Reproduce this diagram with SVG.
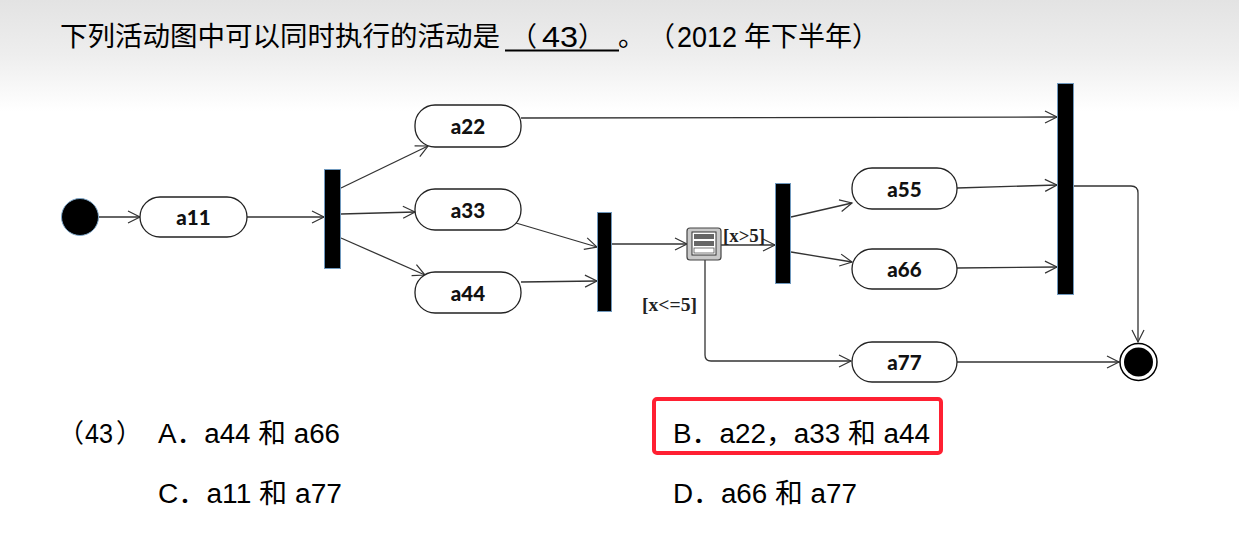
<svg xmlns="http://www.w3.org/2000/svg" width="1239" height="556" viewBox="0 0 1239 556">
<defs>
<linearGradient id="bg" x1="0" y1="0" x2="0" y2="1">
<stop offset="0" stop-color="#e3e3e3"/>
<stop offset="0.1" stop-color="#eeeeee"/>
<stop offset="0.2" stop-color="#ffffff"/>
<stop offset="1" stop-color="#ffffff"/>
</linearGradient>
<marker id="arr" markerUnits="userSpaceOnUse" markerWidth="14" markerHeight="14" refX="12" refY="6" orient="auto" overflow="visible">
<path d="M0,0 L12,6 L0,12" fill="none" stroke="#333" stroke-width="1.2"/>
</marker>
</defs>
<style>
.q{font-family:"Liberation Sans","Noto Sans CJK SC",sans-serif;fill:#000}
.act rect{fill:#fff;stroke:#222;stroke-width:1.3}
.act text{font-family:Lato,"Open Sans",sans-serif;font-weight:900;font-size:20.5px;fill:#111;text-anchor:middle}
.bar{fill:#000;stroke:#6f98bd;stroke-width:1}
.c{fill:none;stroke:#333;stroke-width:1.3}
.g{font-family:"Liberation Serif",serif;font-weight:bold;font-size:18px;fill:#222}
</style>
<rect x="0" y="0" width="1239" height="556" fill="url(#bg)"/>

<g id="question">
<text class="q" x="60" y="46" font-size="27.5">下列活动图中可以同时执行的活动是</text>
<line x1="505" y1="50.5" x2="619" y2="50.5" stroke="#000" stroke-width="2"/>
<text class="q" x="510" y="46" font-size="27">（</text>
<text class="q" x="542" y="47" font-size="29" textLength="36" lengthAdjust="spacingAndGlyphs">43</text>
<text class="q" x="578" y="46" font-size="27">）</text>
<text class="q" x="618" y="46" font-size="27">。</text>
<text class="q" x="648" y="46" font-size="27">（</text>
<text class="q" x="677" y="47" font-size="29" textLength="60" lengthAdjust="spacingAndGlyphs">2012</text>
<text class="q" x="744" y="46" font-size="27">年下半年</text>
<text class="q" x="852" y="46" font-size="27">）</text>
</g>

<g id="connectors">
<line class="c" x1="98" y1="217" x2="140" y2="217" marker-end="url(#arr)"/>
<line class="c" x1="247" y1="217" x2="324" y2="217" marker-end="url(#arr)"/>
<line class="c" x1="341" y1="188" x2="428" y2="146" marker-end="url(#arr)"/>
<line class="c" x1="341" y1="214" x2="415" y2="212" marker-end="url(#arr)"/>
<line class="c" x1="341" y1="238" x2="425" y2="275" marker-end="url(#arr)"/>
<line class="c" x1="521" y1="118" x2="1057" y2="117" marker-end="url(#arr)"/>
<line class="c" x1="516" y1="223" x2="597" y2="247" marker-end="url(#arr)"/>
<line class="c" x1="521" y1="282" x2="597" y2="281" marker-end="url(#arr)"/>
<line class="c" x1="612" y1="244" x2="687" y2="244" marker-end="url(#arr)"/>
<line class="c" x1="721" y1="245" x2="775" y2="245" marker-end="url(#arr)"/>
<line class="c" x1="791" y1="217" x2="852" y2="203" marker-end="url(#arr)"/>
<line class="c" x1="791" y1="252" x2="852" y2="262" marker-end="url(#arr)"/>
<line class="c" x1="957" y1="188" x2="1057" y2="185" marker-end="url(#arr)"/>
<line class="c" x1="957" y1="268" x2="1057" y2="267" marker-end="url(#arr)"/>
<path class="c" d="M705,259 L705,355 Q705,361 711,361 L851,361" marker-end="url(#arr)"/>
<path class="c" d="M1074,186 L1131,186 Q1138,186 1138,193 L1138,342" marker-end="url(#arr)"/>
<line class="c" x1="957" y1="362" x2="1119" y2="362" marker-end="url(#arr)"/>
<text class="g" x="723" y="242" textLength="42" lengthAdjust="spacingAndGlyphs">[x&gt;5]</text>
<text class="g" x="642" y="311" textLength="55" lengthAdjust="spacingAndGlyphs">[x&lt;=5]</text>
</g>

<g id="start"><circle cx="80" cy="217" r="18.5" fill="#000" stroke="#7ea6c8" stroke-width="1"/></g>
<g id="a11" class="act"><rect x="140" y="197" width="107" height="40" rx="20"/><text x="193.5" y="224.5">a11</text></g>
<g id="fork1"><rect class="bar" x="324.5" y="169.5" width="16" height="99"/></g>
<g id="a22" class="act"><rect x="415" y="105" width="106" height="42" rx="20"/><text x="468" y="133.5">a22</text></g>
<g id="a33" class="act"><rect x="415" y="189" width="106" height="41" rx="20"/><text x="468" y="217.5">a33</text></g>
<g id="a44" class="act"><rect x="415" y="272" width="106" height="41" rx="20"/><text x="468" y="300.5">a44</text></g>
<g id="join2"><rect class="bar" x="597.5" y="212.5" width="14" height="99"/></g>
<g id="decision">
<rect x="687" y="228" width="34" height="32" rx="3" fill="#c9c9c9" stroke="#444" stroke-width="1.2"/>
<rect x="692" y="232" width="24" height="23" fill="#fff" stroke="#333" stroke-width="1"/>
<rect x="694" y="234" width="20" height="5" fill="#666"/>
<rect x="694" y="241" width="20" height="5" fill="#666"/>
<rect x="694" y="248" width="20" height="5" fill="#fff" stroke="#555" stroke-width="0.8"/>
</g>
<g id="fork3"><rect class="bar" x="775.5" y="183.5" width="15" height="100"/></g>
<g id="a55" class="act"><rect x="852" y="168" width="105" height="41" rx="20"/><text x="904.5" y="196.5">a55</text></g>
<g id="a66" class="act"><rect x="852" y="249" width="105" height="40" rx="20"/><text x="904.5" y="276.5">a66</text></g>
<g id="a77" class="act"><rect x="852" y="342" width="105" height="40" rx="20"/><text x="904.5" y="369.5">a77</text></g>
<g id="join4"><rect class="bar" x="1057.5" y="83.5" width="16" height="211"/></g>
<g id="end">
<circle cx="1138.5" cy="362" r="18.5" fill="#fff" stroke="#000" stroke-width="1.5"/>
<circle cx="1138.5" cy="362" r="14.5" fill="#000"/>
</g>

<g id="options">
<text class="q" x="58" y="442" font-size="26">（</text>
<text class="q" x="85" y="443" font-size="28" textLength="28" lengthAdjust="spacingAndGlyphs">43</text>
<text class="q" x="116" y="442" font-size="26">）</text>
<text class="q" x="158" y="443" font-size="27" textLength="182" lengthAdjust="spacingAndGlyphs">A．a44 和 a66</text>
<text class="q" x="158" y="503" font-size="27" textLength="184" lengthAdjust="spacingAndGlyphs">C．a11 和 a77</text>
<text class="q" x="673" y="443" font-size="27" textLength="257" lengthAdjust="spacingAndGlyphs">B．a22，a33 和 a44</text>
<text class="q" x="673" y="503" font-size="27" textLength="184" lengthAdjust="spacingAndGlyphs">D．a66 和 a77</text>
<rect x="654" y="399" width="287" height="54" rx="3" fill="none" stroke="#ff2032" stroke-width="4"/>
</g>
</svg>
